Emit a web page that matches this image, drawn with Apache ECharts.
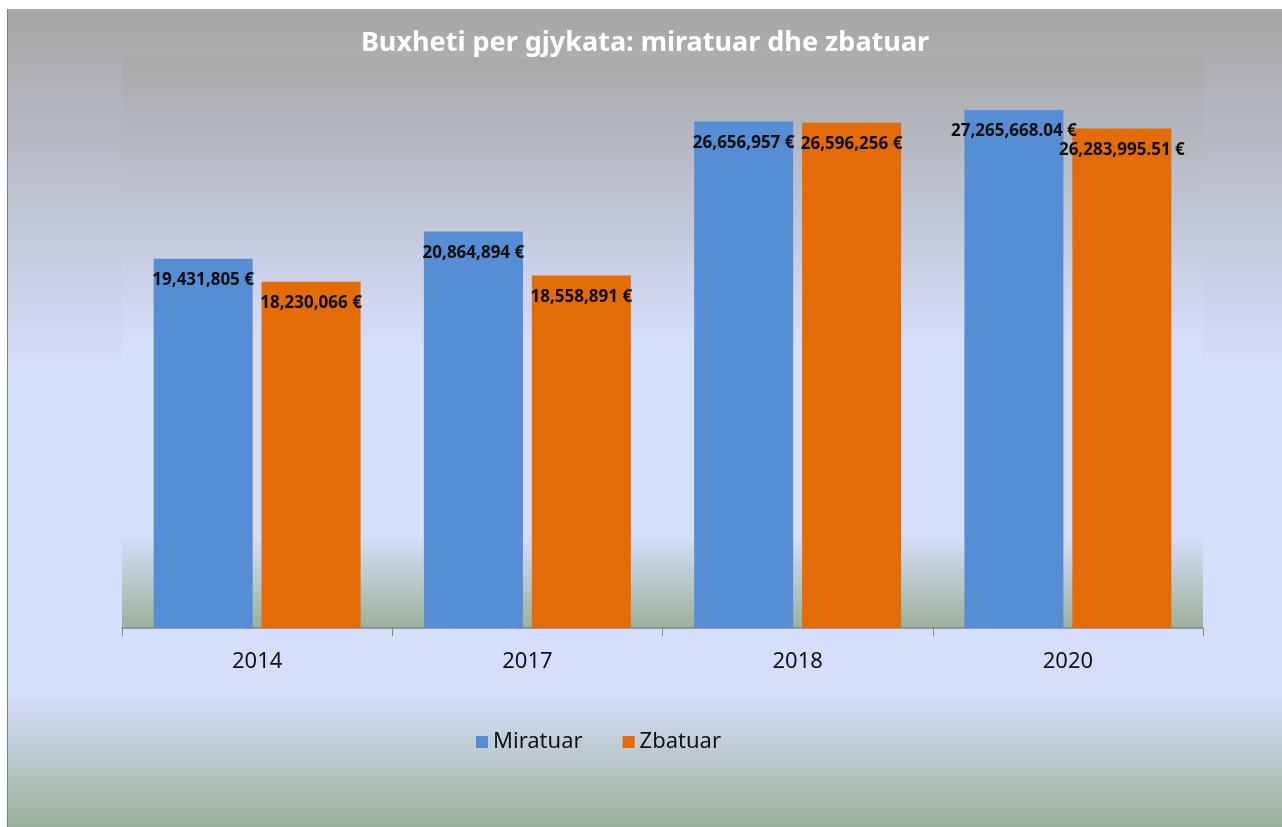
<!DOCTYPE html>
<html>
<head>
<meta charset="utf-8">
<script src="https://cdn.jsdelivr.net/npm/echarts@6/dist/echarts.min.js"></script>
<style>
  html, body { margin: 0; padding: 0; background: #fff; }
  #frame { position: absolute; left: 7px; top: 9px; width: 1275px; height: 818px; border-left: 1px solid #7f7f7f; box-sizing: border-box; }
  #chart { width: 100%; height: 100%; }
</style>
</head>
<body>
<div id="frame"><div id="chart"></div></div>
<script>
const years = ['2014', '2017', '2018', '2020'];
const miratuar = [19431805, 20864894, 26656957, 27265668.04];
const zbatuar = [18230066, 18558891, 26596256, 26283995.51];
const seriesNames = ['Miratuar', 'Zbatuar'];
const titleText = 'Buxheti per gjykata: miratuar dhe zbatuar';

const font = '"Noto Sans", "DejaVu Sans", sans-serif';

function euro(v) {
  const dec = Number.isInteger(v) ? 0 : 2;
  return v.toLocaleString('en-US', { minimumFractionDigits: dec, maximumFractionDigits: dec }) + ' €';
}

function vgrad(stops) {
  return new echarts.graphic.LinearGradient(0, 0, 0, 1,
    stops.map(s => ({ offset: s[0], color: s[1] })));
}

const chart = echarts.init(document.getElementById('chart'), null, { renderer: 'canvas' });

const label = {
  show: true,
  position: 'insideTop',
  distance: 13,
  color: '#0d0d0d',
  fontFamily: font,
  fontWeight: 'bold',
  fontSize: 17,
  formatter: p => euro(p.value)
};

chart.setOption({
  backgroundColor: vgrad([[0, '#a6a6a6'], [0.44, '#d5defb'], [0.84, '#d5defb'], [1, '#9cb199']]),
  animation: false,
  title: {
    text: titleText,
    left: 'center',
    top: 16,
    textStyle: { color: '#fff', fontFamily: font, fontWeight: 'bold', fontSize: 27 }
  },
  legend: {
    data: seriesNames,
    left: 463,
    top: 717,
    icon: 'rect',
    itemWidth: 12,
    itemHeight: 12,
    itemGap: 40,
    textStyle: { color: '#111', fontFamily: font, fontSize: 22 }
  },
  grid: {
    left: 114, right: 79, top: 49, bottom: 199,
    show: true,
    borderWidth: 0,
    backgroundColor: vgrad([[0, '#a9a9aa'], [0.5, '#d5defb'], [0.84, '#d5defb'], [1, '#9cb199']])
  },
  xAxis: {
    type: 'category',
    data: years,
    axisLine: { lineStyle: { color: '#868686', width: 1.5 } },
    axisTick: { show: true, length: 8, lineStyle: { color: '#868686' } },
    axisLabel: { color: '#111', fontFamily: font, fontSize: 22, margin: 23 }
  },
  yAxis: {
    type: 'value',
    min: 0,
    max: 30000000,
    show: false,
    splitLine: { show: false }
  },
  series: [
    { name: seriesNames[0], type: 'bar', data: miratuar, barWidth: 99, barGap: '9%', itemStyle: { color: '#558ed5' }, label: label },
    { name: seriesNames[1], type: 'bar', data: zbatuar, barWidth: 99, itemStyle: { color: '#e36c09' }, label: label }
  ]
});
window.addEventListener('resize', chart.resize);
</script>
</body>
</html>
